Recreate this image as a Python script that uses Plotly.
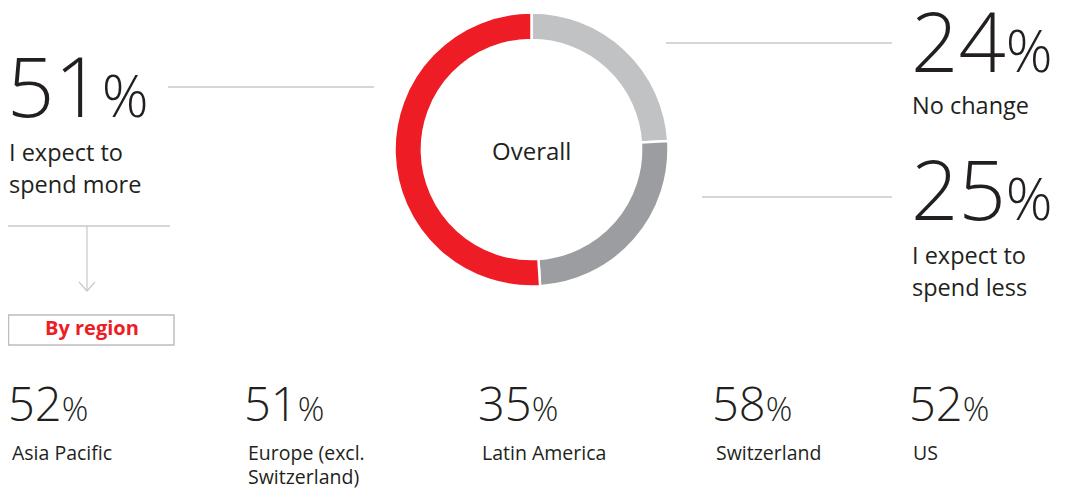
import plotly.graph_objects as go

# ---------------- data ----------------
overall_labels = ["No change", "I expect to spend less", "I expect to spend more"]
overall_values = [24, 25, 51]
overall_colors = ["#c1c2c4", "#9c9da0", "#ee1d25"]

region_names = ["Asia Pacific", "Europe (excl.<br>Switzerland)", "Latin America", "Switzerland", "US"]
region_values = [52, 51, 35, 58, 52]

OFF = 8  # page body margin
W, H = 1065 - OFF, 491 - OFF
TXT = "#231f20"
LINE = "#c8c8c8"
FONT = "Open Sans"


def X(px):
    return (px - OFF) / W


def Y(py):
    return 1 - (py - OFF) / H


annotations = []


def label(text, x_px, baseline_px, size, color=TXT, weight=None, xanchor="left"):
    bottom = baseline_px + 0.293 * size + 1
    f = dict(family=FONT, size=size, color=color)
    if weight:
        f["weight"] = weight
    annotations.append(dict(
        text=text, x=X(x_px), y=Y(bottom), xref="paper", yref="paper",
        xanchor=xanchor, yanchor="bottom", showarrow=False, font=f, align="left"))


def pct(v, pct_size):
    return f"{v}<span style='font-size:{pct_size}px'>%</span>"


# ---------------- donut ----------------
cx, cy, r = 531.5, 149.5, 137
fig = go.Figure(go.Pie(
    labels=overall_labels, values=overall_values, sort=False,
    direction="clockwise", rotation=0, hole=0.8,
    marker=dict(colors=overall_colors, line=dict(color="white", width=2.5)),
    textinfo="none", hoverinfo="label+value", showlegend=False,
    domain=dict(x=[X(cx - r), X(cx + r)], y=[Y(cy + r), Y(cy - r)]),
))
label("Overall", cx, 161, 24, xanchor="center")

# ---------------- overall callouts ----------------
big, bigpct = 83, 58
LW = 400
LS = 23.5
label(pct(overall_values[2], bigpct), 5, 118, big, weight=300)
label("I expect to", 7, 162, LS, weight=LW)
label("spend more", 7, 194, LS, weight=LW)

label(pct(overall_values[0], bigpct), 909, 73, big, weight=300)
label(overall_labels[0], 910, 115, LS, weight=LW)

label(pct(overall_values[1], bigpct), 909, 221, big, weight=300)
label("I expect to", 910, 265, LS, weight=LW)
label("spend less", 910, 297, LS, weight=LW)

shapes = [
    dict(type="line", xref="paper", yref="paper", x0=X(168), x1=X(374), y0=Y(87), y1=Y(87),
         line=dict(color=LINE, width=1.5)),
    dict(type="line", xref="paper", yref="paper", x0=X(666), x1=X(892), y0=Y(43), y1=Y(43),
         line=dict(color=LINE, width=1.5)),
    dict(type="line", xref="paper", yref="paper", x0=X(702), x1=X(892), y0=Y(197), y1=Y(197),
         line=dict(color=LINE, width=1.5)),
    dict(type="line", xref="paper", yref="paper", x0=X(8), x1=X(170), y0=Y(226), y1=Y(226),
         line=dict(color=LINE, width=1.5)),
    dict(type="line", xref="paper", yref="paper", x0=X(87), x1=X(87), y0=Y(226), y1=Y(291),
         line=dict(color=LINE, width=1.2)),
    dict(type="path", xref="paper", yref="paper",
         path=f"M {X(79)} {Y(282)} L {X(87)} {Y(291)} L {X(95)} {Y(282)}",
         line=dict(color=LINE, width=1.2)),
    dict(type="rect", xref="paper", yref="paper", x0=X(8.5), x1=X(174), y0=Y(315), y1=Y(345),
         line=dict(color="#bdbdbd", width=1.5), fillcolor="white"),
]
label("By region", 92, 336, 20, color="#ee1d25", weight=700, xanchor="center")

# ---------------- regions ----------------
col_x = [6, 242, 476, 710, 907]
for xpos, name, v in zip(col_x, region_names, region_values):
    label(pct(v, 33), xpos, 422, 47, weight=300)
    lines = name.split("<br>")
    for i, ln in enumerate(lines):
        label(ln, xpos + 4, 461 + 24 * i, 19.5, weight=LW)

fig.update_layout(
    width=W, height=H, margin=dict(l=0, r=0, t=0, b=0),
    paper_bgcolor="white", plot_bgcolor="white",
    annotations=annotations, shapes=shapes,
    font=dict(family=FONT, color=TXT),
)
fig.write_html("out.html")
